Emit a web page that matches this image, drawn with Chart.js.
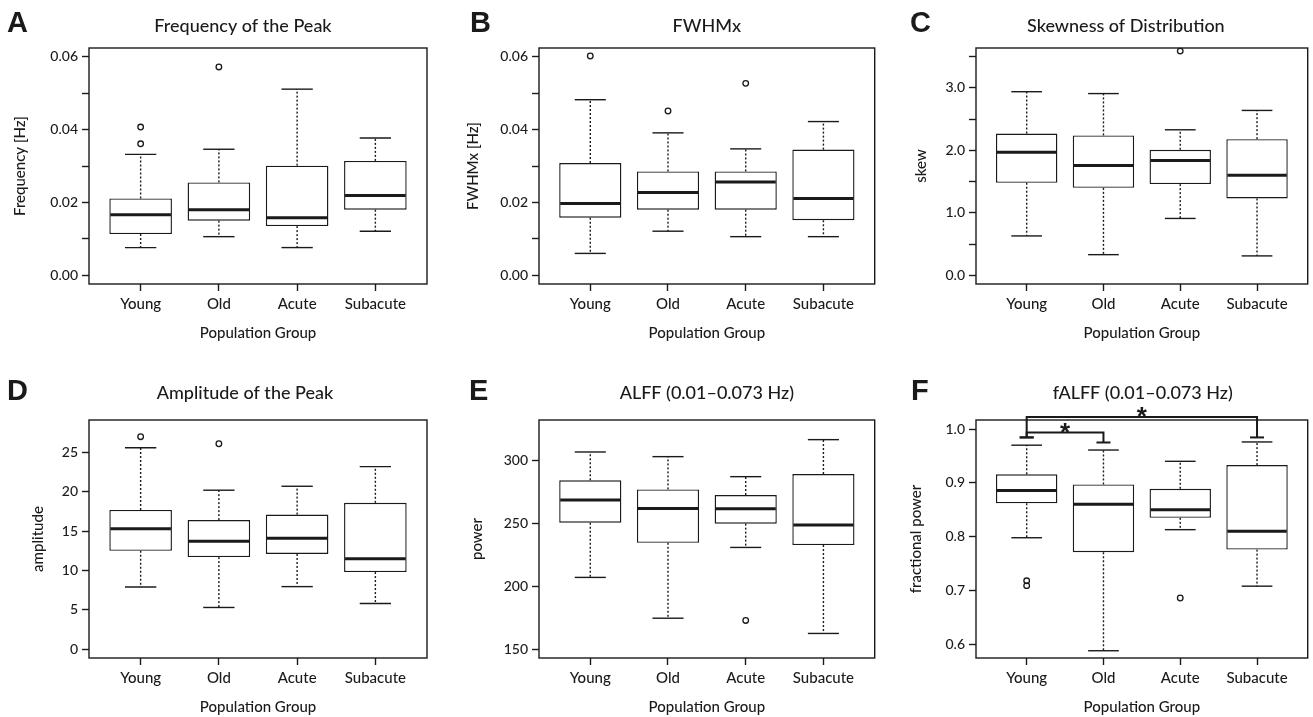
<!DOCTYPE html>
<html>
<head>
<meta charset="utf-8">
<script src="https://cdn.jsdelivr.net/npm/chart.js@4.4.1/dist/chart.umd.min.js"></script>
<style>
  body { margin: 0; background: #fff; }
  #fig { position: relative; width: 1313px; height: 717px; overflow: hidden; }
  .panel { position: absolute; }
</style>
</head>
<body>
<div id="fig">
  <div class="panel" style="left:0;top:0;width:440px;height:350px"><canvas id="chartA"></canvas></div>
  <div class="panel" style="left:440px;top:0;width:440px;height:350px"><canvas id="chartB"></canvas></div>
  <div class="panel" style="left:880px;top:0;width:433px;height:350px"><canvas id="chartC"></canvas></div>
  <div class="panel" style="left:0;top:350px;width:440px;height:367px"><canvas id="chartD"></canvas></div>
  <div class="panel" style="left:440px;top:350px;width:440px;height:367px"><canvas id="chartE"></canvas></div>
  <div class="panel" style="left:880px;top:350px;width:433px;height:367px"><canvas id="chartF"></canvas></div>
</div>
<script>
const INK = '#1a1a1a';
const FONT = 'Lato';
const WEIGHT = '500';

const groups = ['Young', 'Old', 'Acute', 'Subacute'];

// A - frequency of the peak
const freqLo  = [0.0076, 0.0106, 0.0076, 0.0121];
const freqQ1  = [0.0113, 0.0150, 0.0135, 0.0180];
const freqMed = [0.0166, 0.0180, 0.0158, 0.0219];
const freqQ3  = [0.0211, 0.0255, 0.0301, 0.0314];
const freqHi  = [0.0332, 0.0346, 0.0511, 0.0377];
const freqOut = [[0.0407, 0.0361], [0.0572], [], []];
const freqTicks = [0, 0.01, 0.02, 0.03, 0.04, 0.05, 0.06];
const freqTickLabels = ['0.00', '', '0.02', '', '0.04', '', '0.06'];

// B - FWHMx
const fwhmLo  = [0.0060, 0.0121, 0.0106, 0.0106];
const fwhmQ1  = [0.0158, 0.0180, 0.0180, 0.0151];
const fwhmMed = [0.0197, 0.0227, 0.0256, 0.0211];
const fwhmQ3  = [0.0308, 0.0285, 0.0285, 0.0345];
const fwhmHi  = [0.0482, 0.0391, 0.0347, 0.0422];
const fwhmOut = [[0.0602], [0.0451], [0.0527], []];

// C - skewness
const skewLo  = [0.63, 0.33, 0.91, 0.31];
const skewQ1  = [1.48, 1.40, 1.46, 1.23];
const skewMed = [1.97, 1.76, 1.84, 1.60];
const skewQ3  = [2.27, 2.24, 2.01, 2.18];
const skewHi  = [2.94, 2.91, 2.33, 2.64];
const skewOut = [[], [], [3.59], []];
const skewTicks = [0, 0.5, 1, 1.5, 2, 2.5, 3, 3.5];
const skewTickLabels = ['0.0', '', '1.0', '', '2.0', '', '3.0', ''];

// D - amplitude
const ampLo  = [7.9, 5.3, 7.95, 5.8];
const ampQ1  = [12.5, 11.7, 12.1, 9.8];
const ampMed = [15.3, 13.7, 14.1, 11.5];
const ampQ3  = [17.7, 16.4, 17.1, 18.6];
const ampHi  = [25.6, 20.2, 20.7, 23.2];
const ampOut = [[27.0], [26.1], [], []];
const ampTicks = [0, 5, 10, 15, 20, 25];
const ampTickLabels = ['0', '5', '10', '15', '20', '25'];

// E - ALFF
const alffLo  = [207, 174.6, 230.8, 162.5];
const alffQ1  = [250.5, 234.5, 249.7, 232.7];
const alffMed = [268.5, 261.8, 261.6, 248.6];
const alffQ3  = [284.1, 276.9, 272.4, 289.1];
const alffHi  = [306.6, 302.9, 287.0, 316.4];
const alffOut = [[], [], [172.8], []];
const alffTicks = [150, 200, 250, 300];
const alffTickLabels = ['150', '200', '250', '300'];

// F - fALFF
const falffLo  = [0.798, 0.588, 0.813, 0.708];
const falffQ1  = [0.862, 0.771, 0.835, 0.776];
const falffMed = [0.886, 0.860, 0.850, 0.810];
const falffQ3  = [0.916, 0.897, 0.889, 0.933];
const falffHi  = [0.970, 0.961, 0.940, 0.976];
const falffOut = [[0.718, 0.709], [], [0.686], []];
const falffTicks = [0.6, 0.7, 0.8, 0.9, 1.0];
const falffTickLabels = ['0.6', '0.7', '0.8', '0.9', '1.0'];

// significance brackets in F (group positions, bar level, foot of each leg)
const sigPairs = [[1, 2], [1, 4]];
const sigLevels = [0.9938, 1.0224];
const sigFeet = [[0.9844, 0.975], [0.9844, 0.9844]];

// whiskers, medians, frame, brackets
const boxParts = {
  id: 'boxParts',
  afterDatasetsDraw(chart, args, o) {
    const { ctx, chartArea: a } = chart;
    const y = chart.scales.y;
    const bars = chart.getDatasetMeta(0).data;
    ctx.save();
    ctx.strokeStyle = INK;
    const seg = (x1, y1, x2, y2) => { ctx.beginPath(); ctx.moveTo(x1, y1); ctx.lineTo(x2, y2); ctx.stroke(); };
    bars.forEach((bar, i) => {
      const { x, width } = bar.getProps(['x', 'width'], true);
      const cap = width / 4;
      const pLo = y.getPixelForValue(o.lo[i]), pHi = y.getPixelForValue(o.hi[i]);
      const pQ1 = y.getPixelForValue(o.q1[i]), pQ3 = y.getPixelForValue(o.q3[i]);
      ctx.lineWidth = 1.4;
      ctx.setLineDash([2, 2]);
      seg(x, pQ3, x, pHi);
      seg(x, pQ1, x, pLo);
      ctx.setLineDash([]);
      seg(x - cap, pHi, x + cap, pHi);
      seg(x - cap, pLo, x + cap, pLo);
      ctx.lineWidth = 3;
      const pMed = y.getPixelForValue(o.med[i]);
      seg(x - width / 2 + 1, pMed, x + width / 2 - 1, pMed);
    });
    ctx.lineWidth = 1.4;
    ctx.strokeRect(a.left, a.top, a.right - a.left, a.bottom - a.top);
    if (o.sig) {
      const xs = chart.scales.x;
      ctx.lineWidth = 2;
      ctx.fillStyle = INK;
      ctx.font = 'bold 26px "Liberation Sans"';
      ctx.textAlign = 'center';
      ctx.textBaseline = 'middle';
      o.sig.pairs.forEach((pr, k) => {
        const x1 = xs.getPixelForValue(pr[0]), x2 = xs.getPixelForValue(pr[1]);
        const yl = y.getPixelForValue(o.sig.levels[k]);
        const f1 = y.getPixelForValue(o.sig.feet[k][0]), f2 = y.getPixelForValue(o.sig.feet[k][1]);
        ctx.beginPath();
        ctx.moveTo(x1, f1); ctx.lineTo(x1, yl); ctx.lineTo(x2, yl); ctx.lineTo(x2, f2);
        ctx.stroke();
        seg(x1 - 7, f1, x1 + 7, f1);
        seg(x2 - 7, f2, x2 + 7, f2);
        ctx.fillText('*', (x1 + x2) / 2, yl + 1);
      });
    }
    ctx.restore();
  }
};

const panelText = {
  id: 'panelText',
  afterDraw(chart, args, o) {
    const { ctx, chartArea: a } = chart;
    ctx.save();
    ctx.fillStyle = INK;
    ctx.textBaseline = 'middle';
    ctx.textAlign = 'left';
    ctx.font = 'bold 29px "Liberation Sans"';
    ctx.fillText(o.letter, o.letterX, o.letterY);
    ctx.textAlign = 'center';
    ctx.font = WEIGHT + ' 18px ' + FONT;
    ctx.fillText(o.title, (a.left + a.right) / 2 + o.titleShift, o.titleY);
    ctx.restore();
  }
};

function boxChart(id, p) {
  const xs = groups.map((g, i) => i + 1);
  const outliers = [];
  p.out.forEach((vals, i) => vals.forEach(v => outliers.push({ x: i + 1, y: v })));
  return new Chart(document.getElementById(id), {
    type: 'bar',
    data: {
      datasets: [{
        type: 'bar',
        data: xs.map((x, i) => ({ x, y: [p.q1[i], p.q3[i]] })),
        backgroundColor: '#fff',
        borderColor: INK,
        borderWidth: 1.4,
        borderSkipped: false,
        barPercentage: 0.8,
        categoryPercentage: 1
      }, {
        type: 'scatter',
        data: outliers,
        pointStyle: 'circle',
        pointRadius: 2.8,
        borderColor: INK,
        borderWidth: 1.3,
        backgroundColor: 'rgba(0,0,0,0)',
        clip: false
      }]
    },
    options: {
      responsive: true,
      maintainAspectRatio: false,
      animation: false,
      layout: { padding: { top: p.top, right: p.right, bottom: 0, left: 0 } },
      plugins: {
        legend: { display: false },
        tooltip: { enabled: false },
        boxParts: { lo: p.lo, q1: p.q1, med: p.med, q3: p.q3, hi: p.hi, sig: p.sig },
        panelText: p.text
      },
      scales: {
        x: {
          type: 'linear',
          min: 0.34,
          max: 4.66,
          offset: false,
          afterBuildTicks: s => { s.ticks = xs.map(v => ({ value: v })); },
          afterFit: s => { s.height = p.xHeight; },
          grid: { display: true, offset: false, drawOnChartArea: false, tickLength: 7, tickColor: INK, tickWidth: 1.4 },
          border: { display: false },
          ticks: {
            autoSkip: false, maxRotation: 0, padding: 4, color: INK,
            font: { family: FONT, size: 15, weight: WEIGHT },
            callback: v => groups[v - 1]
          },
          title: {
            display: true, text: 'Population Group', color: INK,
            font: { family: FONT, size: 15, weight: WEIGHT },
            padding: { top: 0, bottom: p.xTitlePad }
          }
        },
        y: {
          min: p.yMin,
          max: p.yMax,
          afterBuildTicks: s => { s.ticks = p.ticks.map(v => ({ value: v })); },
          afterFit: s => { s.width = p.yWidth; },
          grid: { display: true, drawOnChartArea: false, tickLength: 7, tickColor: INK, tickWidth: 1.4 },
          border: { display: false },
          ticks: {
            autoSkip: false, padding: 4, color: INK,
            font: { family: FONT, size: 14, weight: WEIGHT },
            callback: (v, i) => p.tickLabels[i]
          },
          title: {
            display: true, text: p.yTitle, color: INK,
            font: { family: FONT, size: 15, weight: WEIGHT },
            padding: { top: p.yTitlePad, bottom: 0 }
          }
        }
      }
    },
    plugins: [boxParts, panelText]
  });
}

// row 1
boxChart('chartA', {
  lo: freqLo, q1: freqQ1, med: freqMed, q3: freqQ3, hi: freqHi, out: freqOut,
  yMin: -0.0024, yMax: 0.0624, ticks: freqTicks, tickLabels: freqTickLabels,
  yTitle: 'Frequency [Hz]', top: 48, right: 13, xHeight: 66, yWidth: 89, xTitlePad: 8, yTitlePad: 11,
  text: { letter: 'A', letterX: 7, letterY: 24, title: 'Frequency of the Peak', titleShift: -15, titleY: 26 }
});
boxChart('chartB', {
  lo: fwhmLo, q1: fwhmQ1, med: fwhmMed, q3: fwhmQ3, hi: fwhmHi, out: fwhmOut,
  yMin: -0.0024, yMax: 0.0624, ticks: freqTicks, tickLabels: freqTickLabels,
  yTitle: 'FWHMx [Hz]', top: 48, right: 3, xHeight: 66, yWidth: 99, xTitlePad: 8, yTitlePad: 24,
  text: { letter: 'B', letterX: 30, letterY: 24, title: 'FWHMx', titleShift: 0, titleY: 26 }
});
boxChart('chartC', {
  lo: skewLo, q1: skewQ1, med: skewMed, q3: skewQ3, hi: skewHi, out: skewOut,
  yMin: -0.14, yMax: 3.64, ticks: skewTicks, tickLabels: skewTickLabels,
  yTitle: 'skew', top: 48, right: 1, xHeight: 66, yWidth: 96, xTitlePad: 8, yTitlePad: 32,
  text: { letter: 'C', letterX: 30, letterY: 24, title: 'Skewness of Distribution', titleShift: -16, titleY: 26 }
});

// row 2
boxChart('chartD', {
  lo: ampLo, q1: ampQ1, med: ampMed, q3: ampQ3, hi: ampHi, out: ampOut,
  yMin: -1.12, yMax: 29.12, ticks: ampTicks, tickLabels: ampTickLabels,
  yTitle: 'amplitude', top: 70, right: 13, xHeight: 59, yWidth: 89, xTitlePad: 1, yTitlePad: 29,
  text: { letter: 'D', letterX: 7, letterY: 42, title: 'Amplitude of the Peak', titleShift: -13, titleY: 43 }
});
boxChart('chartE', {
  lo: alffLo, q1: alffQ1, med: alffMed, q3: alffQ3, hi: alffHi, out: alffOut,
  yMin: 143, yMax: 332, ticks: alffTicks, tickLabels: alffTickLabels,
  yTitle: 'power', top: 70, right: 3, xHeight: 59, yWidth: 99, xTitlePad: 1, yTitlePad: 28,
  text: { letter: 'E', letterX: 29, letterY: 42, title: 'ALFF (0.01\u20130.073 Hz)', titleShift: 0, titleY: 43 }
});
boxChart('chartF', {
  lo: falffLo, q1: falffQ1, med: falffMed, q3: falffQ3, hi: falffHi, out: falffOut,
  yMin: 0.5745, yMax: 1.0168, ticks: falffTicks, tickLabels: falffTickLabels,
  yTitle: 'fractional power', top: 70, right: 1, xHeight: 59, yWidth: 96, xTitlePad: 1, yTitlePad: 27,
  sig: { pairs: sigPairs, levels: sigLevels, feet: sigFeet },
  text: { letter: 'F', letterX: 31, letterY: 42, title: 'fALFF (0.01\u20130.073 Hz)', titleShift: 1, titleY: 43 }
});
</script>
</body>
</html>
